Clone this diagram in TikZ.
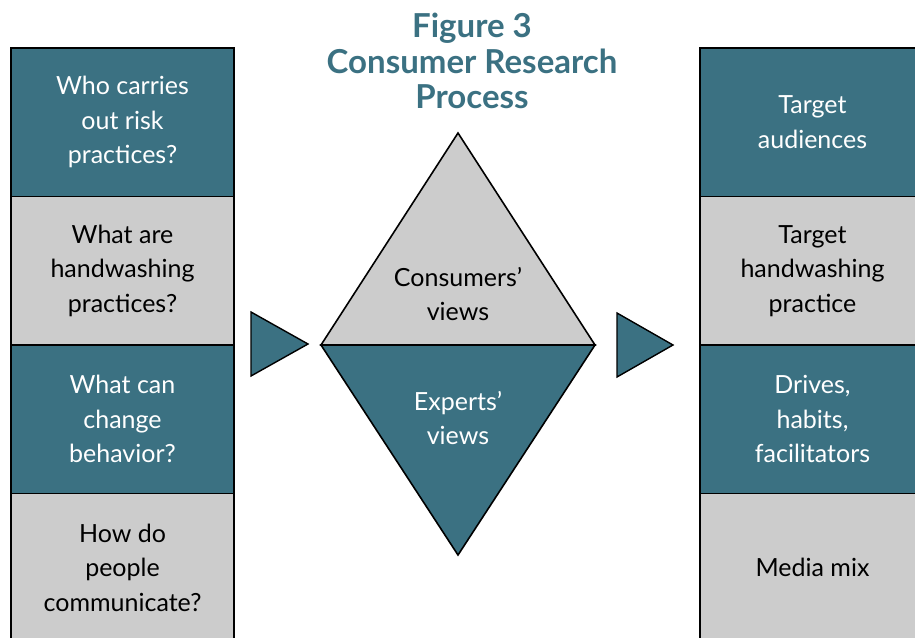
\documentclass[tikz,border=0pt]{standalone}
\usepackage{fontspec}
\setmainfont{Lato}
\usetikzlibrary{positioning}
\definecolor{petrol}{HTML}{3B7182}
\definecolor{cinza}{HTML}{CCCCCC}

\begin{document}
\begin{tikzpicture}[x=1pt, y=-1pt,
		caixa/.style={draw=black, line width=1.6pt, outer sep=0pt, inner sep=0pt,
			minimum height=148.5pt, align=center, font=\fontsize{25}{34.5}\selectfont},
		escura/.style={caixa, fill=petrol, text=white},
		clara/.style={caixa, fill=cinza, text=black},
		seta/.style={fill=petrol, draw=black, line width=1.4pt, line join=miter}]
		\useasboundingbox (0,0) rectangle (915,637);

		% O titulo
			\node[font=\bfseries\fontsize{33}{35.5}\selectfont, text=petrol, align=center] (titulo) at (472,61)
				{Figure 3\\Consumer Research\\Process};

		% A coluna da esquerda
			\node[escura, minimum width=223pt, anchor=north west] (quem) at (11,48) {Who carries\\out risk\\practices?};
			\node[clara, minimum width=223pt, below=0pt of quem] (praticas) {What are\\handwashing\\practices?};
			\node[escura, minimum width=223pt, below=0pt of praticas] (mudar) {What can\\change\\behavior?};
			\node[clara, minimum width=223pt, below=0pt of mudar] (comunicar) {How do\\people\\communicate?};

		% A coluna da direita
			\node[escura, minimum width=225pt, anchor=north west] (publico) at (700,48) {Target\\audiences};
			\node[clara, minimum width=225pt, below=0pt of publico] (alvo) {Target\\handwashing\\practice};
			\node[escura, minimum width=225pt, below=0pt of alvo] (drives) {Drives,\\habits,\\facilitators};
			\node[clara, minimum width=225pt, below=0pt of drives] (midia) {Media mix};

		% O losango do meio
			\coordinate (topo) at (458,133);
			\coordinate (esq) at (321,345);
			\coordinate (dir) at (595,345);
			\coordinate (base) at (458,555);
			\filldraw[fill=cinza, line width=1.6pt, line join=miter] (esq) -- (topo) -- (dir) -- cycle;
			\filldraw[fill=petrol, line width=1.6pt, line join=miter] (esq) -- (dir) -- (base) -- cycle;
			\node[align=center, font=\fontsize{25}{34.5}\selectfont] (consumidores) at (458,294) {Consumers'\\views};
			\node[align=center, font=\fontsize{25}{34.5}\selectfont, text=white] (experts) at (458,418) {Experts'\\views};

		% As setas
			\filldraw[seta] (251,312) -- (308,344) -- (251,376) -- cycle;
			\filldraw[seta] (617,313) -- (673,345) -- (617,377) -- cycle;
	\end{tikzpicture}
\end{document}
